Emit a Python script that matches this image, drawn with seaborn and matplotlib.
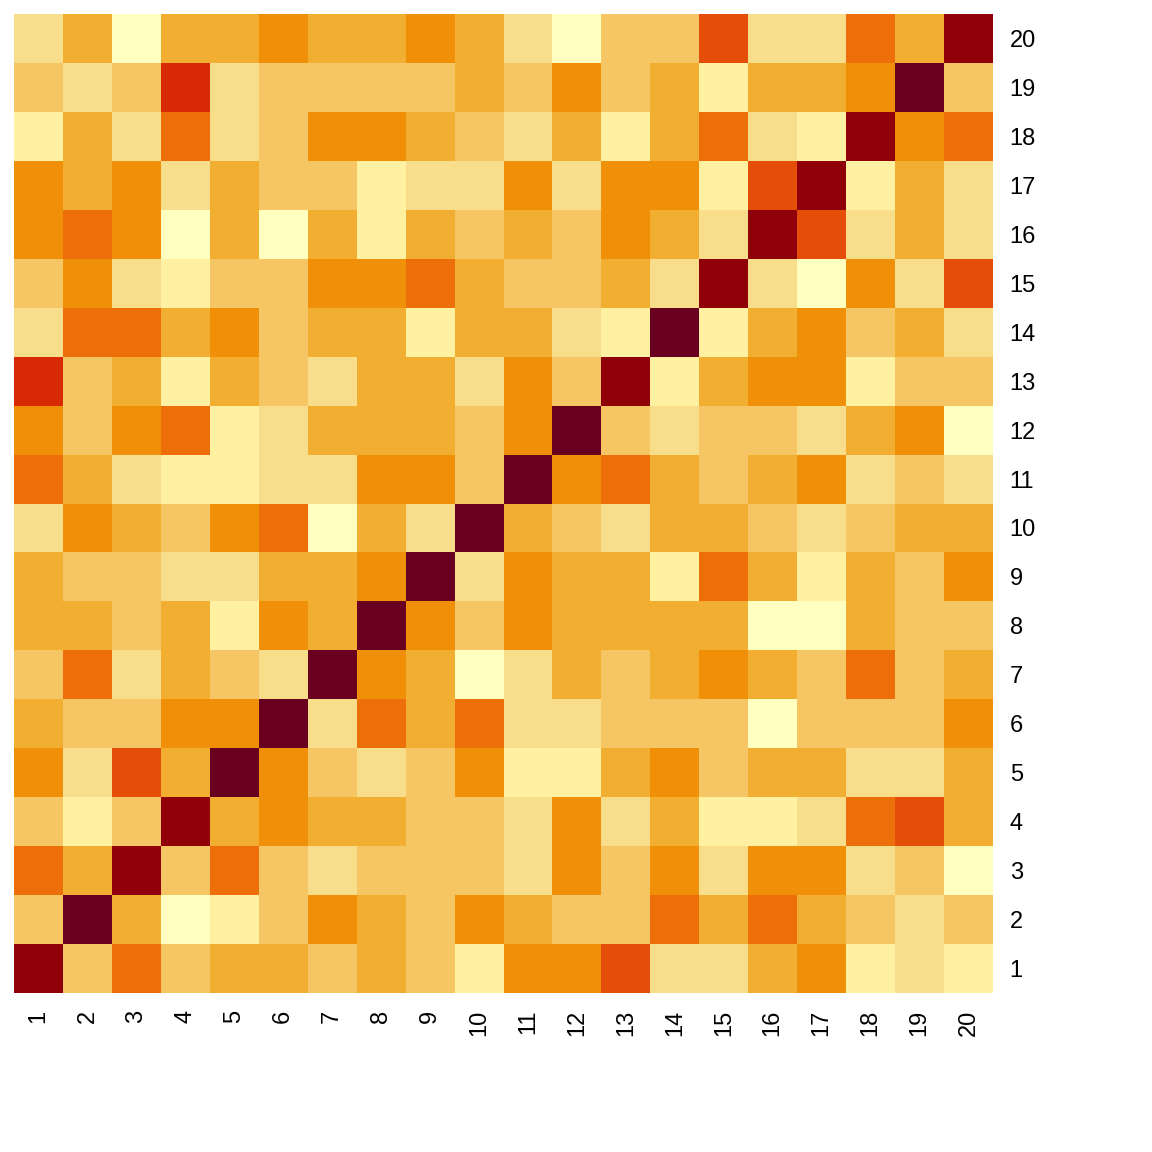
import numpy as np
import matplotlib
matplotlib.use("Agg")
import matplotlib.pyplot as plt
import seaborn as sns
from matplotlib.colors import ListedColormap

# colour levels, lightest to darkest
level_colors = ["#FFFFBF", "#FFF0A2", "#F8DE8A", "#F5C663", "#F2AE30", "#EF9008",
                "#EC6F0A", "#E54E08", "#D72A04", "#8F0008", "#690020"]

labels = [str(i) for i in range(1, 21)]

# one list per row (row 1 at the bottom), values are colour levels
row1 = [9, 3, 6, 3, 4, 4, 3, 4, 3, 1, 5, 5, 7, 2, 2, 4, 5, 1, 2, 1]
row2 = [3, 10, 4, 0, 1, 3, 5, 4, 3, 5, 4, 3, 3, 6, 4, 6, 4, 3, 2, 3]
row3 = [6, 4, 9, 3, 6, 3, 2, 3, 3, 3, 2, 5, 3, 5, 2, 5, 5, 2, 3, 0]
row4 = [3, 1, 3, 9, 4, 5, 4, 4, 3, 3, 2, 5, 2, 4, 1, 1, 2, 6, 7, 4]
row5 = [5, 2, 7, 4, 10, 5, 3, 2, 3, 5, 1, 1, 4, 5, 3, 4, 4, 2, 2, 4]
row6 = [4, 3, 3, 5, 5, 10, 2, 6, 4, 6, 2, 2, 3, 3, 3, 0, 3, 3, 3, 5]
row7 = [3, 6, 2, 4, 3, 2, 10, 5, 4, 0, 2, 4, 3, 4, 5, 4, 3, 6, 3, 4]
row8 = [4, 4, 3, 4, 1, 5, 4, 10, 5, 3, 5, 4, 4, 4, 4, 0, 0, 4, 3, 3]
row9 = [4, 3, 3, 2, 2, 4, 4, 5, 10, 2, 5, 4, 4, 1, 6, 4, 1, 4, 3, 5]
row10 = [2, 5, 4, 3, 5, 6, 0, 4, 2, 10, 4, 3, 2, 4, 4, 3, 2, 3, 4, 4]
row11 = [6, 4, 2, 1, 1, 2, 2, 5, 5, 3, 10, 5, 6, 4, 3, 4, 5, 2, 3, 2]
row12 = [5, 3, 5, 6, 1, 2, 4, 4, 4, 3, 5, 10, 3, 2, 3, 3, 2, 4, 5, 0]
row13 = [8, 3, 4, 1, 4, 3, 2, 4, 4, 2, 5, 3, 9, 1, 4, 5, 5, 1, 3, 3]
row14 = [2, 6, 6, 4, 5, 3, 4, 4, 1, 4, 4, 2, 1, 10, 1, 4, 5, 3, 4, 2]
row15 = [3, 5, 2, 1, 3, 3, 5, 5, 6, 4, 3, 3, 4, 2, 9, 2, 0, 5, 2, 7]
row16 = [5, 6, 5, 0, 4, 0, 4, 1, 4, 3, 4, 3, 5, 4, 2, 9, 7, 2, 4, 2]
row17 = [5, 4, 5, 2, 4, 3, 3, 1, 2, 2, 5, 2, 5, 5, 1, 7, 9, 1, 4, 2]
row18 = [1, 4, 2, 6, 2, 3, 5, 5, 4, 3, 2, 4, 1, 4, 6, 2, 1, 9, 5, 6]
row19 = [3, 2, 3, 8, 2, 3, 3, 3, 3, 4, 3, 5, 3, 4, 1, 4, 4, 5, 10, 3]
row20 = [2, 4, 0, 4, 4, 5, 4, 4, 5, 4, 2, 0, 3, 3, 7, 2, 2, 6, 4, 9]

rows = [row1, row2, row3, row4, row5, row6, row7, row8, row9, row10,
        row11, row12, row13, row14, row15, row16, row17, row18, row19, row20]

# top of the picture is row 20
mat = np.array(rows[::-1])

plt.rcParams['font.family'] = ['Liberation Sans', 'DejaVu Sans']

fig = plt.figure(figsize=(11.52, 11.52), dpi=100)
ax = fig.add_axes([14 / 1152, 159 / 1152, 979 / 1152, 979 / 1152])

sns.heatmap(mat, ax=ax, cmap=ListedColormap(level_colors), vmin=-0.5, vmax=10.5,
            cbar=False, xticklabels=labels, yticklabels=labels[::-1])

ax.yaxis.tick_right()
ax.tick_params(axis='both', length=0, labelsize=17, pad=12)
plt.setp(ax.get_yticklabels(), rotation=0)
plt.setp(ax.get_xticklabels(), rotation=90)

fig.savefig("out.png", dpi=100)
